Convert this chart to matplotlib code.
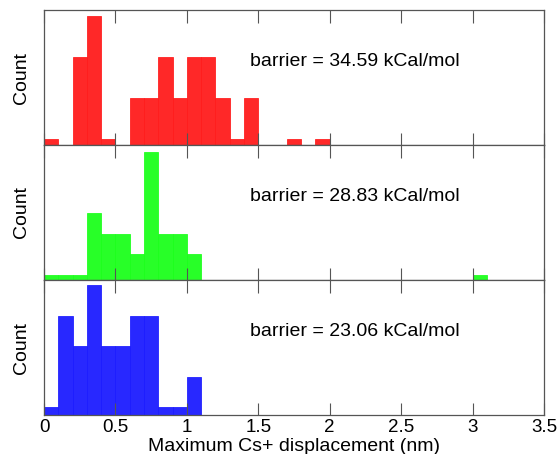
import numpy as np
import matplotlib
matplotlib.use("Agg")
import matplotlib.pyplot as plt

plt.rcParams['font.family'] = ['Liberation Sans', 'DejaVu Sans']

# counts per 0.1 nm bin, starting at 0
red_counts = [1, 0, 15, 22, 1, 0, 8, 8, 15, 8, 15, 15, 8, 1, 8, 0, 0, 1, 0, 1]
green_counts = [1, 1, 1, 13, 9, 9, 5, 25, 9, 9, 5] + [0] * 19 + [1]
blue_counts = [1, 13, 9, 17, 9, 9, 13, 13, 1, 1, 5]
barriers = ["34.59", "28.83", "23.06"]
colors = ['#ff1c1c', '#1cff1c', '#1c1cff']
ymaxes = [23, 26.3, 17.7]
bin_width = 0.1
xticks = [0, 0.5, 1, 1.5, 2, 2.5, 3, 3.5]
xticklabels = ["0", "0.5", "1", "1.5", "2", "2.5", "3", "3.5"]

fig = plt.figure(figsize=(5.59, 4.54), dpi=100)
left, right = 44 / 559, 544 / 559
top_px, bot_px = 10, 415
h = (bot_px - top_px) / 3

all_counts = [red_counts, green_counts, blue_counts]
for i, counts in enumerate(all_counts):
    y0 = 1 - (top_px + h * (i + 1)) / 454
    ax = fig.add_axes([left, y0, right - left, h / 454])
    lefts = np.arange(len(counts)) * bin_width
    ax.bar(lefts, counts, width=bin_width, align='edge', color=colors[i],
           edgecolor=colors[i], linewidth=0.6, alpha=0.95)
    ax.set_xlim(0, 3.5)
    ax.set_ylim(0, ymaxes[i])
    ax.set_yticks([])
    ax.set_xticks(xticks)
    ax.tick_params(axis='x', direction='in', length=9, width=0.8, color='#555555',
                   top=True, bottom=True, labelsize=13.5, pad=3)
    if i < 2:
        ax.set_xticklabels([])
    else:
        ax.set_xticklabels(xticklabels)
        ax.set_xlabel("Maximum Cs+ displacement (nm)", fontsize=14, labelpad=1)
    for s in ax.spines.values():
        s.set_color('#555555')
        s.set_linewidth(0.9)
    ax.set_ylabel("Count", fontsize=14, labelpad=10)
    ax.text(1.445, 0.62 * ymaxes[i], "barrier = " + barriers[i] + " kCal/mol",
            fontsize=14, va='center', ha='left')

fig.savefig("out.png", dpi=100)
